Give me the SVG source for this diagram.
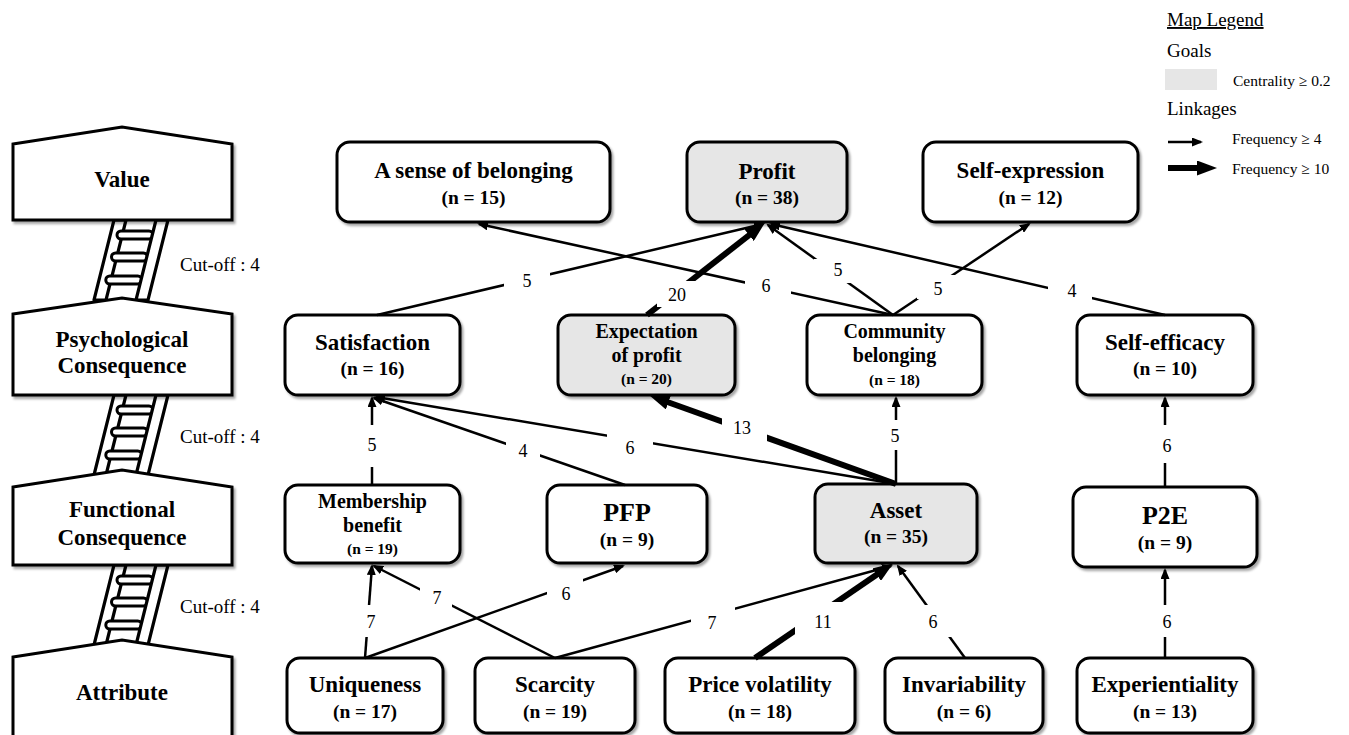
<svg xmlns="http://www.w3.org/2000/svg" width="1349" height="735" viewBox="0 0 1349 735">
<defs>
<filter id="sh" x="-10%" y="-10%" width="130%" height="140%">
<feDropShadow dx="2" dy="2.5" stdDeviation="1.3" flood-color="#000" flood-opacity="0.35"/>
</filter>
<marker id="ah" markerUnits="userSpaceOnUse" viewBox="0 0 11 9" markerWidth="11" markerHeight="9" refX="9" refY="4.5" orient="auto">
<path d="M0,0 L11,4.5 L0,9 Z" fill="#000"/>
</marker>
<marker id="ahb" markerUnits="userSpaceOnUse" viewBox="0 0 20 15" markerWidth="20" markerHeight="15" refX="10" refY="7.5" orient="auto">
<path d="M0,0 L20,7.5 L0,15 Z" fill="#000"/>
</marker>
<g id="ladder">
<path d="M114,0 L126,0 L106,80 L94,80 Z" class="rail"/>
<rect x="117" y="11" width="36" height="8" rx="4" class="rung"/>
<rect x="111.5" y="33" width="36" height="8" rx="4" class="rung"/>
<rect x="105.8" y="56" width="36" height="8" rx="4" class="rung"/>
<path d="M156,0 L168,0 L148,80 L136,80 Z" class="rail"/>
</g>
</defs>
<style>
.rail{fill:#fff;stroke:#000;stroke-width:3.2;stroke-linejoin:round}
.rung{fill:#fff;stroke:#000;stroke-width:3}
.blk{fill:#fff;stroke:#000;stroke-width:3;filter:url(#sh)}
.node rect{fill:#fff;stroke:#000;stroke-width:3;filter:url(#sh)}
.goal rect{fill:#e6e6e6}
.t{font-family:"Liberation Serif","Times New Roman",serif;font-weight:bold;text-anchor:middle;fill:#000}
.r{font-family:"Liberation Serif","Times New Roman",serif;fill:#000}
.e{stroke:#000;stroke-width:2.5;fill:none;marker-end:url(#ah)}
.eb{stroke:#000;stroke-width:6;fill:none;marker-end:url(#ahb)}
.lb rect{fill:#fff}
.lb text{font-family:"Liberation Serif","Times New Roman",serif;font-size:18px;text-anchor:middle;fill:#000}
</style>
<rect width="1349" height="735" fill="#fff"/>

<!-- ladder levels -->
<g id="levels">
<use href="#ladder" transform="translate(0,220)"/>
<use href="#ladder" transform="translate(0,395)"/>
<use href="#ladder" transform="translate(0,565)"/>
<g id="lvl-value">
<path class="blk" d="M13,144 L122,127 L232,144 L232,220 L13,220 Z"/>
<text class="t" x="122" y="187" font-size="23">Value</text>
</g>
<g id="lvl-psych">
<path class="blk" d="M13,314 L122,298 L232,314 L232,395 L13,395 Z"/>
<text class="t" x="122" y="347" font-size="23">Psychological</text>
<text class="t" x="122" y="373" font-size="23">Consequence</text>
</g>
<g id="lvl-func">
<path class="blk" d="M13,487 L122,470 L232,487 L232,565 L13,565 Z"/>
<text class="t" x="122" y="517" font-size="23">Functional</text>
<text class="t" x="122" y="545" font-size="23">Consequence</text>
</g>
<g id="lvl-attr">
<path class="blk" d="M13,657 L122,640 L232,657 L232,745 L13,745 Z"/>
<text class="t" x="122" y="700" font-size="23">Attribute</text>
</g>
<text class="r" x="180" y="271" font-size="19">Cut-off : 4</text>
<text class="r" x="180" y="443" font-size="19">Cut-off : 4</text>
<text class="r" x="180" y="613" font-size="19">Cut-off : 4</text>
</g>

<!-- legend -->
<g id="legend">
<text class="r" x="1167" y="26" font-size="19" text-decoration="underline">Map Legend</text>
<text class="r" x="1167" y="57" font-size="19">Goals</text>
<rect x="1165" y="69" width="52" height="21" fill="#e6e6e6"/>
<text class="r" x="1233" y="86" font-size="15.5">Centrality ≥ 0.2</text>
<text class="r" x="1167" y="115" font-size="19">Linkages</text>
<line x1="1168" y1="142" x2="1201" y2="142" class="e"/>
<text class="r" x="1232" y="144" font-size="15.5">Frequency ≥ 4</text>
<line x1="1168" y1="168" x2="1207" y2="168" class="eb"/>
<text class="r" x="1232" y="174" font-size="15.5">Frequency ≥ 10</text>
</g>

<!-- nodes -->
<g id="n-belonging" class="node"><rect x="337" y="142" width="273" height="80" rx="13"/>
<text class="t" x="473.5" y="178" font-size="23">A sense of belonging</text>
<text class="t" x="473.5" y="204" font-size="19.5">(n = 15)</text></g>
<g id="n-profit" class="node goal"><rect x="687" y="142" width="160" height="80" rx="13"/>
<text class="t" x="767" y="179" font-size="23">Profit</text>
<text class="t" x="767" y="204" font-size="19.5">(n = 38)</text></g>
<g id="n-selfexpression" class="node"><rect x="923" y="142" width="215" height="80" rx="13"/>
<text class="t" x="1030.5" y="178" font-size="23">Self-expression</text>
<text class="t" x="1030.5" y="204" font-size="19.5">(n = 12)</text></g>

<g id="n-satisfaction" class="node"><rect x="285" y="315" width="175" height="80" rx="13"/>
<text class="t" x="372.5" y="350" font-size="23">Satisfaction</text>
<text class="t" x="372.5" y="375" font-size="19.5">(n = 16)</text></g>
<g id="n-expectation" class="node goal"><rect x="558" y="315" width="177" height="80" rx="13"/>
<text class="t" x="646.5" y="338" font-size="20">Expectation</text>
<text class="t" x="646.5" y="362" font-size="20">of profit</text>
<text class="t" x="646.5" y="384" font-size="15.5">(n = 20)</text></g>
<g id="n-community" class="node"><rect x="807" y="315" width="175" height="80" rx="13"/>
<text class="t" x="894.5" y="338" font-size="20">Community</text>
<text class="t" x="894.5" y="362" font-size="20">belonging</text>
<text class="t" x="894.5" y="385" font-size="15.5">(n = 18)</text></g>
<g id="n-selfefficacy" class="node"><rect x="1077" y="315" width="176" height="80" rx="13"/>
<text class="t" x="1165" y="350" font-size="23">Self-efficacy</text>
<text class="t" x="1165" y="375" font-size="19.5">(n = 10)</text></g>

<g id="n-membership" class="node"><rect x="285" y="485" width="175" height="78" rx="13"/>
<text class="t" x="372.5" y="508" font-size="20">Membership</text>
<text class="t" x="372.5" y="532" font-size="20">benefit</text>
<text class="t" x="372.5" y="554" font-size="15.5">(n = 19)</text></g>
<g id="n-pfp" class="node"><rect x="547" y="485" width="160" height="78" rx="13"/>
<text class="t" x="627" y="521" font-size="26">PFP</text>
<text class="t" x="627" y="546" font-size="19.5">(n = 9)</text></g>
<g id="n-asset" class="node goal"><rect x="815" y="484" width="162" height="79" rx="13"/>
<text class="t" x="896" y="518" font-size="23">Asset</text>
<text class="t" x="896" y="543" font-size="19.5">(n = 35)</text></g>
<g id="n-p2e" class="node"><rect x="1073" y="487" width="184" height="80" rx="13"/>
<text class="t" x="1165" y="524" font-size="26">P2E</text>
<text class="t" x="1165" y="549" font-size="19.5">(n = 9)</text></g>

<g id="n-uniqueness" class="node"><rect x="287" y="658" width="156" height="75" rx="13"/>
<text class="t" x="365" y="692" font-size="23">Uniqueness</text>
<text class="t" x="365" y="718" font-size="19.5">(n = 17)</text></g>
<g id="n-scarcity" class="node"><rect x="475" y="658" width="160" height="75" rx="13"/>
<text class="t" x="555" y="692" font-size="23">Scarcity</text>
<text class="t" x="555" y="718" font-size="19.5">(n = 19)</text></g>
<g id="n-pricevolatility" class="node"><rect x="665" y="658" width="190" height="75" rx="13"/>
<text class="t" x="760" y="692" font-size="23">Price volatility</text>
<text class="t" x="760" y="718" font-size="19.5">(n = 18)</text></g>
<g id="n-invariability" class="node"><rect x="885" y="658" width="158" height="75" rx="13"/>
<text class="t" x="964" y="692" font-size="23">Invariability</text>
<text class="t" x="964" y="718" font-size="19.5">(n = 6)</text></g>
<g id="n-experientiality" class="node"><rect x="1077" y="658" width="176" height="75" rx="13"/>
<text class="t" x="1165" y="692" font-size="23">Experientiality</text>
<text class="t" x="1165" y="718" font-size="19.5">(n = 13)</text></g>

<!-- connectors -->
<g id="connectors">
<line class="e" x1="377" y1="315" x2="763" y2="224"/>
<line class="e" x1="893" y1="315" x2="479" y2="224"/>
<line class="eb" x1="647" y1="315" x2="757" y2="229"/>
<line class="e" x1="893" y1="315" x2="768" y2="225"/>
<line class="e" x1="893" y1="315" x2="1029" y2="224"/>
<line class="e" x1="1165" y1="315" x2="771" y2="224"/>

<line class="e" x1="372" y1="485" x2="372" y2="398"/>
<line class="e" x1="625" y1="485" x2="374" y2="398"/>
<line class="e" x1="896" y1="484" x2="376" y2="397"/>
<line class="eb" x1="896" y1="484" x2="659" y2="399"/>
<line class="e" x1="896" y1="484" x2="896" y2="398"/>
<line class="e" x1="1165" y1="487" x2="1165" y2="398"/>

<line class="e" x1="365" y1="658" x2="372" y2="566"/>
<line class="e" x1="555" y1="658" x2="374" y2="566"/>
<line class="e" x1="365" y1="658" x2="623" y2="566"/>
<line class="e" x1="555" y1="658" x2="891" y2="566"/>
<line class="eb" x1="755" y1="658" x2="885" y2="569"/>
<line class="e" x1="965" y1="658" x2="898" y2="566"/>
<line class="e" x1="1165" y1="658" x2="1165" y2="570"/>

<g class="lb">
<rect x="504" y="266" width="46" height="28"/><text x="527" y="287">5</text>
<rect x="745" y="275" width="46" height="24"/><text x="766" y="292">6</text>
<rect x="657" y="281" width="40" height="26"/><text x="677" y="301">20</text>
<rect x="814" y="259" width="42" height="24"/><text x="838" y="276">5</text>
<rect x="917" y="275" width="40" height="24"/><text x="938" y="295">5</text>
<rect x="1048" y="279" width="44" height="24"/><text x="1072" y="297">4</text>

<rect x="352" y="425" width="40" height="42"/><text x="372" y="451">5</text>
<rect x="506" y="435" width="34" height="30"/><text x="523" y="457">4</text>
<rect x="607" y="428" width="46" height="36"/><text x="630" y="454">6</text>
<rect x="722" y="415" width="45" height="28"/><text x="742" y="434">13</text>
<rect x="876" y="420" width="40" height="30"/><text x="895" y="442">5</text>
<rect x="1145" y="425" width="40" height="38"/><text x="1167" y="452">6</text>

<rect x="349" y="605" width="40" height="32"/><text x="371" y="628">7</text>
<rect x="420" y="582" width="32" height="30"/><text x="437" y="604">7</text>
<rect x="547" y="575" width="36" height="30"/><text x="566" y="600">6</text>
<rect x="691" y="603" width="44" height="34"/><text x="712" y="629">7</text>
<rect x="795" y="602" width="56" height="38"/><text x="823" y="628">11</text>
<rect x="917" y="605" width="36" height="32"/><text x="933" y="628">6</text>
<rect x="1145" y="605" width="40" height="32"/><text x="1167" y="628">6</text>
</g>
</g>
</svg>
